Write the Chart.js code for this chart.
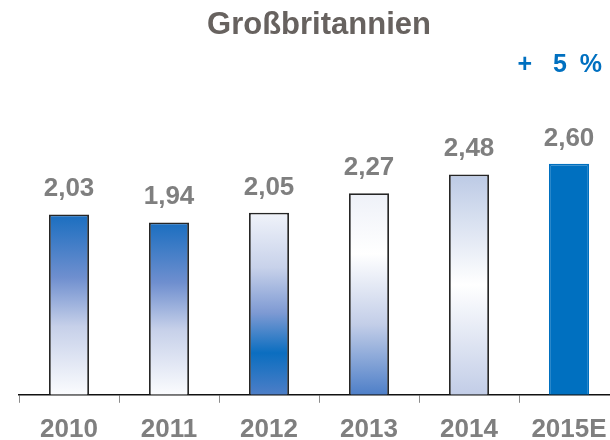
<!DOCTYPE html>
<html>
<head>
<meta charset="utf-8">
<script src="https://cdn.jsdelivr.net/npm/chart.js@4/dist/chart.umd.min.js"></script>
<style>
	html, body { margin: 0; padding: 0; background: #fff; overflow: hidden; }
	#wrap { width: 635px; height: 456px; position: relative; }
</style>
</head>
<body>
<div id="wrap"><canvas id="chart"></canvas></div>
<script>
(function () {

	'use strict';

	var years  = ['2010', '2011', '2012', '2013', '2014', '2015E'];
	var values = [2.03, 1.94, 2.05, 2.27, 2.48, 2.60];
	var growthParts = ['+', '5', '%'];

	// gradient stops per bar, top (0) to bottom (1)
	var fills = [
		[[0, '#1a6ec0'], [0.35, '#6f8fcf'], [0.62, '#c6d0e9'], [1, '#fbfcfe']],
		[[0, '#1a6ec0'], [0.35, '#6f8fcf'], [0.62, '#c6d0e9'], [1, '#fbfcfe']],
		[[0, '#f0f3fa'], [0.3, '#c8d2ea'], [0.55, '#7e9ad3'], [0.77, '#0b6ec0'], [1, '#4d7ec7']],
		[[0, '#eef1f8'], [0.3, '#ffffff'], [0.65, '#c3cee8'], [1, '#4e7fc8']],
		[[0, '#bccae5'], [0.5, '#ffffff'], [1, '#c2cde7']],
		[[0, '#0070c0'], [1, '#0070c0']]
	];

	var font = '"Liberation Sans", Arial, sans-serif';

	var gradientBars = {
		id: 'gradientBars',
		beforeDatasetsDraw: function (chart) {
			var ctx = chart.ctx;
			chart.getDatasetMeta(0).data.forEach(function (bar, i) {
				var g = ctx.createLinearGradient(0, bar.y, 0, bar.base);
				fills[i].forEach(function (s) { g.addColorStop(s[0], s[1]); });
				bar.options.backgroundColor = g;
			});
		}
	};

	var valueLabels = {
		id: 'valueLabels',
		afterDatasetsDraw: function (chart) {
			var ctx = chart.ctx;
			ctx.save();
			ctx.font = 'bold 26px ' + font;
			ctx.fillStyle = '#7f7f7f';
			ctx.textAlign = 'center';
			ctx.textBaseline = 'alphabetic';
			chart.getDatasetMeta(0).data.forEach(function (bar, i) {
				ctx.fillText(values[i].toFixed(2).replace('.', ','), bar.x, bar.y - 18);
			});

			// growth note above the last bar, spaced out like the original
			var area = chart.chartArea;
			ctx.font = 'bold 25px ' + font;
			ctx.fillStyle = '#0070c0';
			ctx.textAlign = 'right';
			ctx.fillText(growthParts[2], area.right - 17, area.top + 15);
			ctx.fillText(growthParts[1], area.right - 52, area.top + 15);
			ctx.fillText(growthParts[0], area.right - 87, area.top + 15);
			ctx.restore();
		}
	};

	new Chart(document.getElementById('chart'), {
		type: 'bar',
		data: {
			labels: years,
			datasets: [{
				data: values,
				backgroundColor: '#0070c0',
				borderColor: ['#262626', '#262626', '#262626', '#262626', '#262626', '#0070c0'],
				borderWidth: 1.8,
				borderSkipped: 'bottom',
				barPercentage: 0.4,
				categoryPercentage: 1
			}]
		},
		options: {
			responsive: true,
			maintainAspectRatio: false,
			animation: false,
			layout: { padding: { left: 19, right: 16, top: 0, bottom: 0 } },
			plugins: {
				legend: { display: false },
				tooltip: { enabled: false },
				title: {
					display: true,
					text: 'Großbritannien',
					color: '#67625f',
					font: { family: font, size: 31, weight: 'bold' },
					padding: { top: 7, bottom: 13 }
				}
			},
			scales: {
				x: {
					offset: true,
					grid: {
						display: true,
						offset: true,
						drawOnChartArea: false,
						drawTicks: true,
						tickLength: 8,
						color: '#8c8c8c'
					},
					border: { display: true, color: '#111', width: 1.5 },
					ticks: {
						color: '#7f7f7f',
						padding: 11,
						font: { family: font, size: 26, weight: 'bold' }
					}
				},
				y: {
					display: false,
					min: 0,
					max: 3.8
				}
			}
		},
		plugins: [gradientBars, valueLabels]
	});

})();
</script>
</body>
</html>
